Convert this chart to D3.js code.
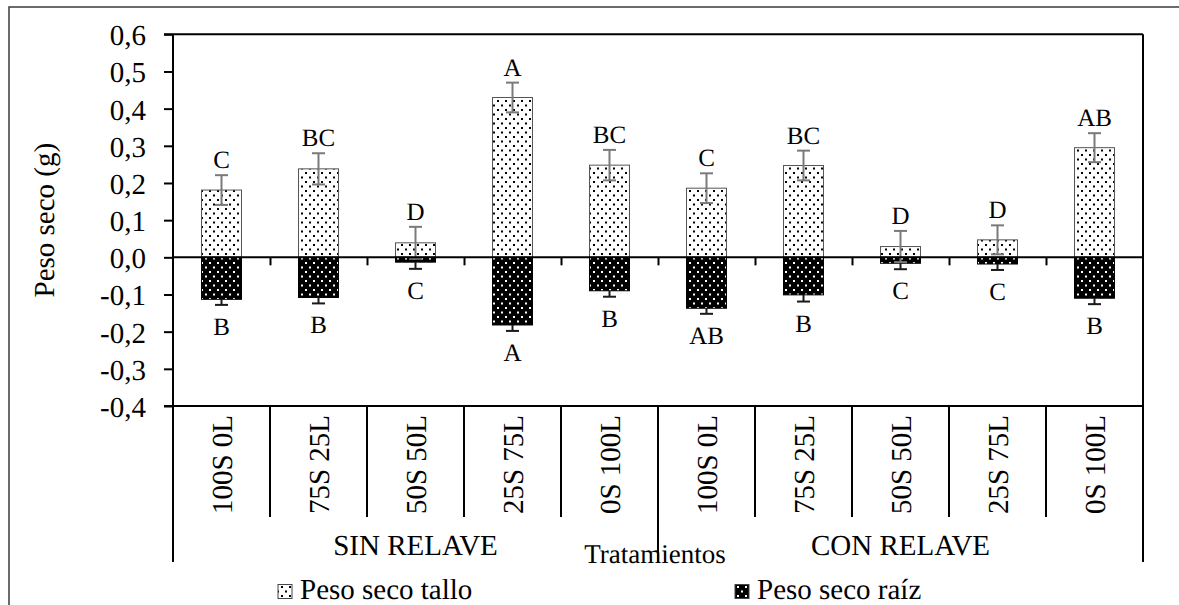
<!DOCTYPE html>
<html>
<head>
<meta charset="utf-8">
<script src="https://cdn.jsdelivr.net/npm/d3@7"></script>
<style>
  html, body { margin: 0; padding: 0; background: #fff; }
  svg { display: block; }
  text { font-family: "Liberation Serif", "Times New Roman", serif; fill: #000; text-rendering: geometricPrecision; }
</style>
</head>
<body>
<svg id="chart" width="1179" height="605"></svg>
<script>
// Treatments (soil / limestone mix), grouped by tailings condition
const categories = ["100S 0L", "75S 25L", "50S 50L", "25S 75L", "0S 100L",
                    "100S 0L", "75S 25L", "50S 50L", "25S 75L", "0S 100L"];
const groups = ["SIN RELAVE", "CON RELAVE"];
const groupSize = 5;

// Stem dry weight (g) and its error
const talloValues = [0.181, 0.238, 0.039, 0.430, 0.248, 0.186, 0.247, 0.029, 0.047, 0.295];
const talloErr    = [0.040, 0.042, 0.043, 0.040, 0.041, 0.040, 0.040, 0.042, 0.039, 0.039];
const talloLetters = ["C", "BC", "D", "A", "BC", "C", "BC", "D", "D", "AB"];

// Root dry weight (g), plotted downward, and its error
const raizValues = [-0.113, -0.108, -0.013, -0.182, -0.090, -0.137, -0.101, -0.016, -0.018, -0.110];
const raizErr    = [0.015, 0.016, 0.018, 0.016, 0.016, 0.015, 0.018, 0.016, 0.016, 0.016];
const raizLetters = ["B", "B", "C", "A", "B", "AB", "B", "C", "C", "B"];

const yTicks = [-0.4, -0.3, -0.2, -0.1, 0, 0.1, 0.2, 0.3, 0.4, 0.5, 0.6];
const seriesNames = ["Peso seco tallo", "Peso seco raíz"];
const yTitle = "Peso seco (g)";
const xTitle = "Tratamientos";

const serif = "Liberation Serif";
const svg = d3.select("#chart");

// Plot area
const plotLeft = 173, plotRight = 1143, plotTop = 34.3, plotBottom = 406;
const catLabelBottom = 517, groupBottom = 562;

const y = d3.scaleLinear().domain([-0.4, 0.6]).range([plotBottom, plotTop]);
const x = d3.scaleBand().domain(d3.range(categories.length)).range([plotLeft, plotRight]).padding(0);
const xb = d3.scaleLinear().domain([0, categories.length]).range([plotLeft, plotRight]);
const barW = x.bandwidth() * 0.412;

const locale = d3.formatLocale({ decimal: ",", thousands: ".", grouping: [3], currency: ["", ""], minus: "-" });
const fmt = locale.format(".1f");

// Dot patterns
const defs = svg.append("defs");
function dotPattern(id, bg, fg) {
  const p = defs.append("pattern").attr("id", id).attr("patternUnits", "userSpaceOnUse")
    .attr("width", 8).attr("height", 9);
  p.append("rect").attr("width", 8).attr("height", 9).attr("fill", bg);
  p.append("rect").attr("x", 1).attr("y", 1).attr("width", 2).attr("height", 2).attr("fill", fg);
  p.append("rect").attr("x", 5).attr("y", 5.5).attr("width", 2).attr("height", 2).attr("fill", fg);
}
dotPattern("dotsLight", "#fff", "#000");
dotPattern("dotsDark", "#000", "#fff");

// Outer chart border
svg.append("rect").attr("x", 9).attr("y", 7).attr("width", 1200).attr("height", 700)
  .attr("fill", "none").attr("stroke", "#3a3a3a").attr("stroke-width", 1.5);

// Stem bars
svg.append("g").selectAll("rect").data(talloValues).join("rect")
  .attr("x", (d, i) => x(i) + (x.bandwidth() - barW) / 2)
  .attr("y", d => y(d))
  .attr("width", barW)
  .attr("height", d => y(0) - y(d))
  .attr("fill", "url(#dotsLight)")
  .attr("stroke", "#555").attr("stroke-width", 1);

// Root bars
svg.append("g").selectAll("rect").data(raizValues).join("rect")
  .attr("x", (d, i) => x(i) + (x.bandwidth() - barW) / 2)
  .attr("y", y(0))
  .attr("width", barW)
  .attr("height", d => y(d) - y(0))
  .attr("fill", "url(#dotsDark)")
  .attr("stroke", "#000").attr("stroke-width", 1);

// Error bars
const cap = 6.5;
const eT = svg.append("g").attr("stroke", "#7a7a7a").attr("stroke-width", 2);
talloValues.forEach((v, i) => {
  const cx = x(i) + x.bandwidth() / 2;
  const hi = y(v + talloErr[i]), lo = y(v - talloErr[i]);
  eT.append("line").attr("x1", cx).attr("x2", cx).attr("y1", hi).attr("y2", lo);
  eT.append("line").attr("x1", cx - cap).attr("x2", cx + cap).attr("y1", hi).attr("y2", hi);
  eT.append("line").attr("x1", cx - cap).attr("x2", cx + cap).attr("y1", lo).attr("y2", lo);
});
const eR = svg.append("g").attr("stroke", "#1a1a1a").attr("stroke-width", 2);
raizValues.forEach((v, i) => {
  const cx = x(i) + x.bandwidth() / 2;
  const lo = y(v - raizErr[i]);
  eR.append("line").attr("x1", cx).attr("x2", cx).attr("y1", y(v)).attr("y2", lo);
  eR.append("line").attr("x1", cx - cap).attr("x2", cx + cap).attr("y1", lo).attr("y2", lo);
});

// Significance letters
svg.append("g").selectAll("text").data(talloLetters).join("text")
  .attr("x", (d, i) => x(i) + x.bandwidth() / 2)
  .attr("y", (d, i) => y(talloValues[i] + talloErr[i]) - 7)
  .attr("text-anchor", "middle").attr("font-size", 25).attr("font-family", serif)
  .text(d => d);
svg.append("g").selectAll("text").data(raizLetters).join("text")
  .attr("x", (d, i) => x(i) + x.bandwidth() / 2)
  .attr("y", (d, i) => y(raizValues[i] - raizErr[i]) + 30)
  .attr("text-anchor", "middle").attr("font-size", 25).attr("font-family", serif)
  .text(d => d);

// Y axis
const yAxis = svg.append("g").attr("transform", `translate(${plotLeft},0)`)
  .call(d3.axisLeft(y).tickValues(yTicks).tickFormat(fmt).tickSize(9).tickPadding(18));
yAxis.attr("font-family", serif);
yAxis.select(".domain").remove();
yAxis.selectAll(".tick line").attr("stroke", "#000").attr("stroke-width", 2);
yAxis.selectAll(".tick text").attr("font-size", 29).attr("font-family", serif).attr("dy", "0.36em");

// Zero line with category ticks
const xAxis = svg.append("g").attr("transform", `translate(0,${y(0)})`)
  .call(d3.axisBottom(xb).tickValues(d3.range(1, categories.length)).tickSize(8).tickFormat(""));
xAxis.select(".domain").attr("stroke", "#000").attr("stroke-width", 2).attr("d", `M${plotLeft},0H${plotRight}`);
xAxis.selectAll(".tick line").attr("stroke", "#000").attr("stroke-width", 2);

// Plot frame and category table lines
const frame = svg.append("g").attr("stroke", "#000").attr("stroke-width", 2).attr("fill", "none");
frame.append("line").attr("x1", plotLeft - 9).attr("x2", plotRight).attr("y1", plotTop).attr("y2", plotTop);
frame.append("line").attr("x1", plotLeft - 9).attr("x2", plotRight).attr("y1", plotBottom).attr("y2", plotBottom);
frame.append("line").attr("x1", plotLeft).attr("x2", plotLeft).attr("y1", plotTop).attr("y2", groupBottom);
frame.append("line").attr("x1", plotRight).attr("x2", plotRight).attr("y1", plotTop).attr("y2", groupBottom);
d3.range(1, categories.length).forEach(k => {
  frame.append("line").attr("x1", xb(k)).attr("x2", xb(k)).attr("y1", plotBottom)
    .attr("y2", k % groupSize === 0 ? groupBottom : catLabelBottom);
});

// Category labels (rotated)
svg.append("g").selectAll("text").data(categories).join("text")
  .attr("transform", (d, i) => `translate(${x(i) + x.bandwidth() / 2 + 10},${plotBottom + 9}) rotate(-90)`)
  .attr("text-anchor", "end").attr("font-size", 29).attr("font-family", serif)
  .text(d => d);

// Group labels
svg.append("g").selectAll("text").data(groups).join("text")
  .attr("x", (d, g) => (xb(g * groupSize) + xb((g + 1) * groupSize)) / 2)
  .attr("y", 555)
  .attr("text-anchor", "middle").attr("font-size", 29).attr("font-family", serif)
  .text(d => d);

// Axis titles
svg.append("text").attr("x", (plotLeft + plotRight) / 2 - 3).attr("y", 563)
  .attr("text-anchor", "middle").attr("font-size", 27).attr("font-family", serif).text(xTitle);
svg.append("text").attr("transform", `translate(54,${(plotTop + plotBottom) / 2}) rotate(-90)`)
  .attr("text-anchor", "middle").attr("font-size", 29).attr("font-family", serif).text(yTitle);

// Legend
const legendX = [278, 735];
const legendFill = ["url(#dotsLight)", "url(#dotsDark)"];
const lg = svg.append("g");
seriesNames.forEach((name, i) => {
  lg.append("rect").attr("x", legendX[i]).attr("y", 584.5).attr("width", 14).attr("height", 14)
    .attr("fill", legendFill[i]).attr("stroke", "#444").attr("stroke-width", 1);
  lg.append("text").attr("x", legendX[i] + 22).attr("y", 599).attr("font-size", 29)
    .attr("font-family", serif).text(name);
});
</script>
</body>
</html>
